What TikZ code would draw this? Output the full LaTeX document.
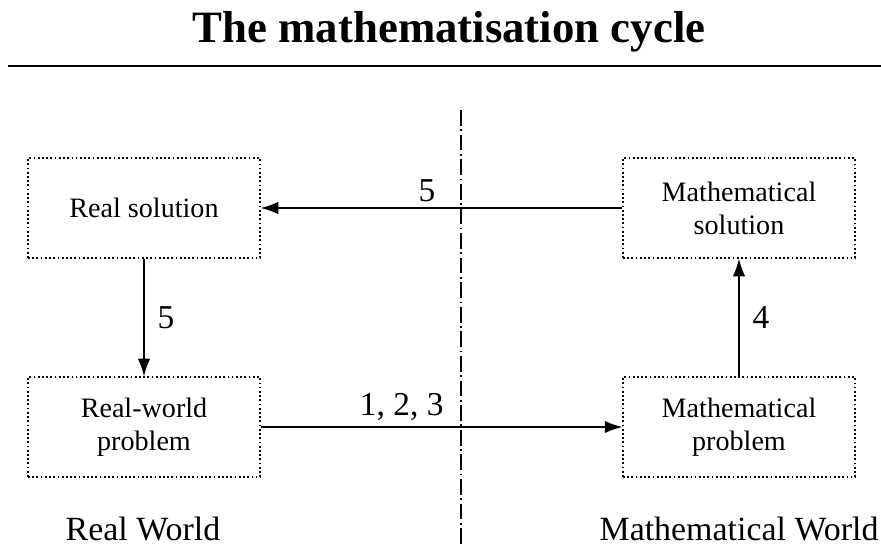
\documentclass[tikz,border=0pt]{standalone}
\usepackage{fontspec}
\setmainfont{Liberation Serif}
\usetikzlibrary{arrows.meta}

\begin{document}
\begin{tikzpicture}[x=0.02cm, y=-0.02cm,
  stage/.style={draw, dash pattern=on 1pt off 1.4pt, line width=0.8pt, minimum width=4.64cm, minimum height=2cm, inner sep=0pt, align=center, font=\fontsize{16}{18.7}\selectfont},
  flow/.style={-{Latex[length=10pt,width=7pt]}, line width=0.7pt},
  num/.style={font=\fontsize{19}{22}\selectfont},
  world/.style={font=\fontsize{19.3}{22}\selectfont}]
\useasboundingbox (0,0) rectangle (881,547);
\node[font=\fontsize{25.5}{30}\selectfont\bfseries] (title) at (449,32) {The mathematisation cycle};
\coordinate (ruleL) at (8,66);
\coordinate (ruleR) at (881,66);
\draw[line width=1.4pt] (ruleL) -- (ruleR);
% divider between the two worlds
\coordinate (divtop) at (461,110);
\coordinate (divbot) at (461,547);
\draw[dash pattern=on 9pt off 2pt on 1pt off 2pt, line width=0.8pt] (divtop) -- (divbot);
\node[stage] (realsol) at (144,208) {Real solution};
\node[stage] (realprob) at (144,427) {Real-world\\problem};
\node[stage] (mathsol) at (739,208) {Mathematical\\solution};
\node[stage] (mathprob) at (739,427) {Mathematical\\problem};
\draw[flow] (realprob) -- node[num, above, pos=0.39] (l123) {1, 2, 3} (mathprob);
\draw[flow] (mathprob) -- node[num, right, xshift=4pt] (l4) {4} (mathsol);
\draw[flow] (mathsol) -- node[num, above, pos=0.54] (l5a) {5} (realsol);
\draw[flow] (realsol) -- node[num, right, xshift=4pt] (l5b) {5} (realprob);
\node[world] (realw) at (143,529) {Real World};
\node[world] (mathw) at (739,529) {Mathematical World};
\end{tikzpicture}
\end{document}
